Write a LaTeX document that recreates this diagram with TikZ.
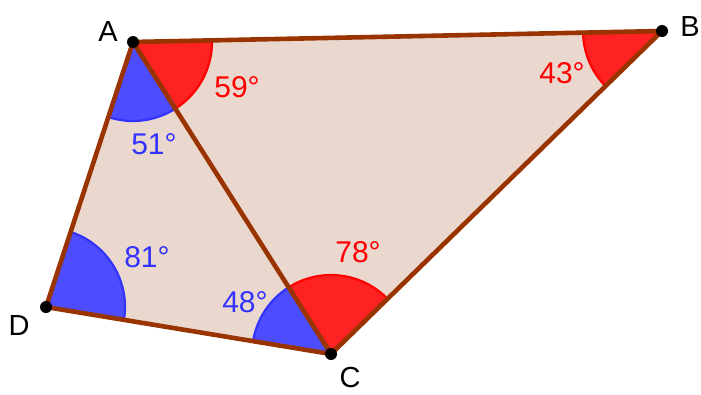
\documentclass[tikz,border=0pt]{standalone}
\usepackage{fontspec}
\setmainfont{Liberation Sans}
\usetikzlibrary{angles}
\definecolor{polyfill}{RGB}{234,216,206}
\definecolor{edgebrown}{RGB}{153,51,0}
\definecolor{angred}{RGB}{255,34,34}
\definecolor{angredline}{RGB}{255,0,0}
\definecolor{angblue}{RGB}{77,77,255}
\definecolor{angblueline}{RGB}{51,51,255}
\begin{document}
\begin{tikzpicture}[x=1pt,y=-1pt,
  seg/.style={draw=edgebrown,line width=4.6pt,line cap=round},
  redang/.style={draw=angredline,fill=angred,line width=2.2pt,angle radius=79pt},
  blueang/.style={draw=angblueline,fill=angblue,line width=2.2pt,angle radius=79pt},
  ptdot/.style={circle,fill=black,inner sep=0pt,minimum size=12pt},
  ptlabel/.style={font=\fontsize{29}{33}\selectfont,text=black,inner sep=0pt},
  redlabel/.style={font=\fontsize{30}{34}\selectfont,text=angredline,inner sep=0pt},
  bluelabel/.style={font=\fontsize{30}{34}\selectfont,text=angblueline,inner sep=0pt}]
\useasboundingbox (0,0) rectangle (701,394);
\coordinate (A) at (133,42);
\coordinate (B) at (662,31);
\coordinate (C) at (331,354);
\coordinate (D) at (46,307);
\fill[polyfill] (A) -- (B) -- (C) -- (D) -- cycle;
\pic[redang] {angle = C--A--B};
\pic[blueang] {angle = D--A--C};
\pic[redang] {angle = A--B--C};
\pic[redang] {angle = B--C--A};
\pic[blueang] {angle = A--C--D};
\pic[blueang] {angle = C--D--A};
\draw[seg] (A) -- (B);
\draw[seg] (B) -- (C);
\draw[seg] (C) -- (D);
\draw[seg] (D) -- (A);
\draw[seg] (A) -- (C);
\node[ptdot] (pA) at (A) {};
\node[ptdot] (pB) at (B) {};
\node[ptdot] (pC) at (C) {};
\node[ptdot] (pD) at (D) {};
\node[ptlabel] (lA) at (108,32) {A};
\node[ptlabel] (lB) at (690,27) {B};
\node[ptlabel] (lC) at (350,378) {C};
\node[ptlabel] (lD) at (19,326) {D};
\node[redlabel] (a59) at (237,87) {59°};
\node[bluelabel] (a51) at (154,144) {51°};
\node[redlabel] (a43) at (562,73) {43°};
\node[redlabel] (a78) at (358,252) {78°};
\node[bluelabel] (a48) at (245,302) {48°};
\node[bluelabel] (a81) at (147,257) {81°};
\end{tikzpicture}
\end{document}
